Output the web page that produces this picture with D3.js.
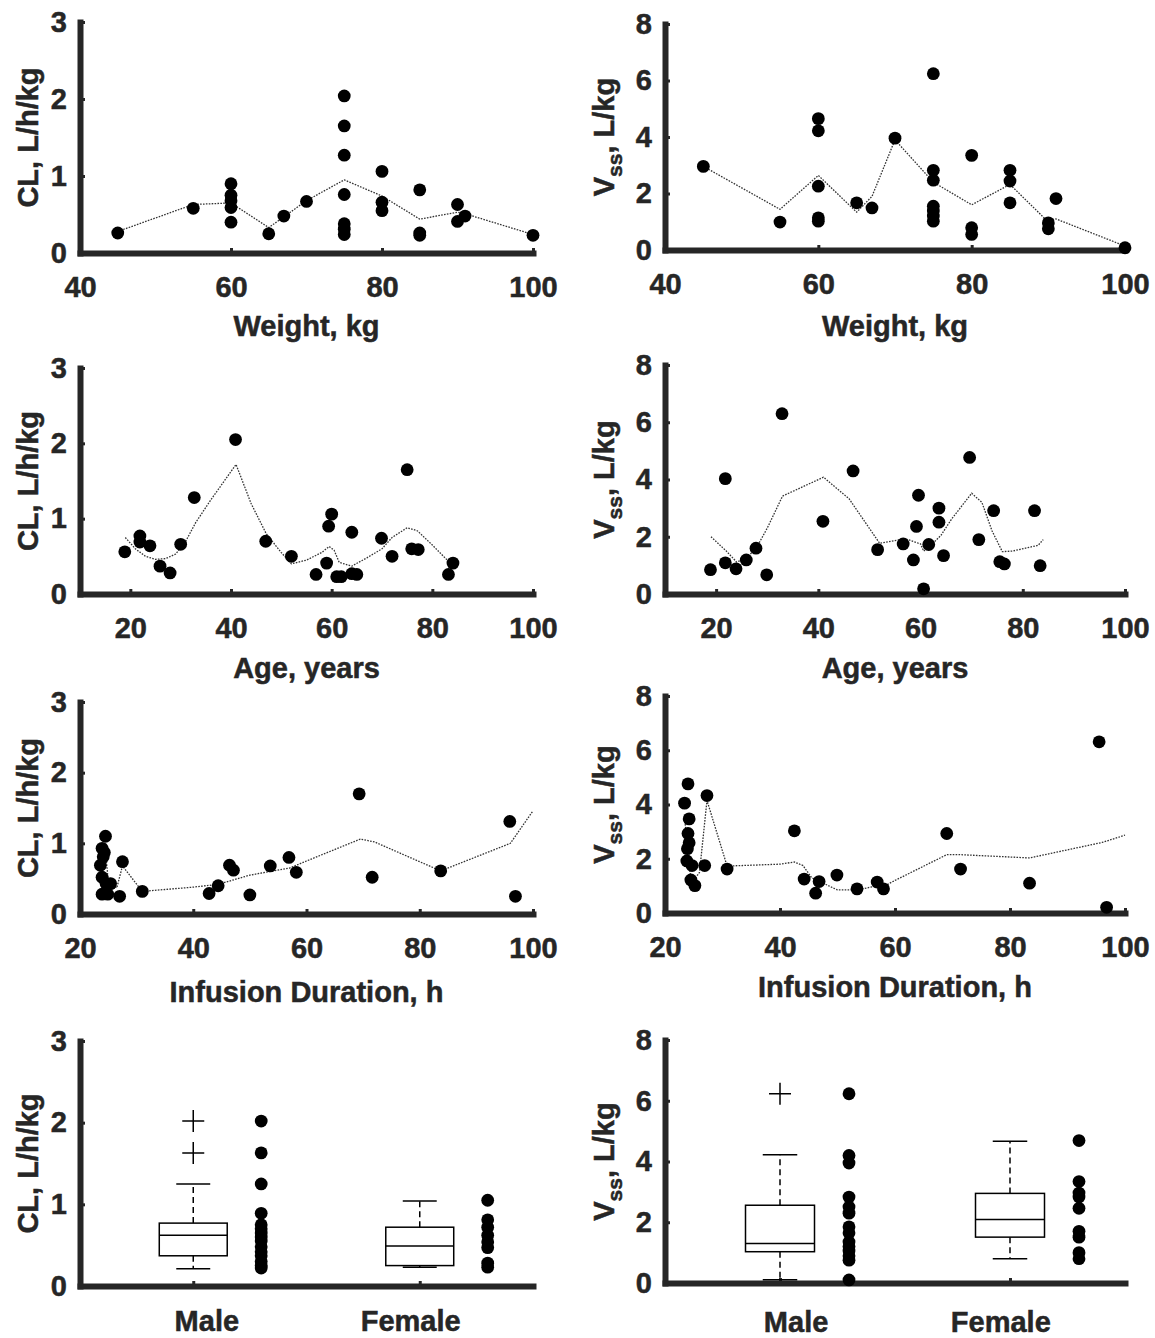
<!DOCTYPE html>
<html>
<head>
<meta charset="utf-8">
<script src="https://cdn.jsdelivr.net/npm/d3@7"></script>
<style>
  body { margin: 0; background: #fff; }
  text { font-family: "Liberation Sans", Arial, sans-serif; font-weight: bold; fill: #262626; stroke: #262626; stroke-width: 0.5px; }
</style>
</head>
<body>
<svg id="chart" width="1155" height="1338"></svg>
<script>
// ---- data ----
var clWeight = [[45,0.26],[55,0.58],[60,0.90],[60,0.75],[60,0.68],[60,0.59],[60,0.40],[65,0.25],[67,0.48],[70,0.67],
  [75,2.04],[75,1.65],[75,1.27],[75,0.76],[75,0.38],[75,0.31],[75,0.24],[80,1.06],[80,0.66],[80,0.55],
  [85,0.82],[85,0.26],[85,0.23],[90,0.63],[90,0.41],[91,0.48],[100,0.23]];
var clWeightSmooth = [[45,0.28],[55,0.63],[60,0.65],[65,0.33],[67,0.47],[70,0.68],[75,0.95],[80,0.74],[85,0.44],[90,0.53],[91,0.51],[100,0.24]];

var vssWeight = [[45,2.96],[55,0.99],[60,4.65],[60,4.22],[60,2.26],[60,1.14],[60,1.02],[65,1.67],[67,1.49],[70,3.96],
  [75,6.24],[75,2.82],[75,2.47],[75,1.55],[75,1.38],[75,1.20],[75,1.02],[80,3.35],[80,0.79],[80,0.55],
  [85,2.82],[85,2.44],[85,1.67],[90,0.96],[90,0.75],[91,1.82],[100,0.08]];
var vssWeightSmooth = [[45,2.96],[55,1.44],[60,2.64],[65,1.34],[67,1.9],[70,3.9],[75,2.4],[80,1.6],[85,2.32],[90,0.99],[91,1.1],[100,0.14]];

var clAge = [[18.9,0.56],[21.9,0.77],[21.9,0.69],[23.9,0.64],[25.9,0.37],[27.9,0.28],[30,0.66],[32.7,1.28],[40.9,2.05],
  [46.9,0.70],[52,0.50],[56.9,0.26],[59,0.41],[59.4,0.90],[60,1.06],[61,0.23],[61.9,0.23],[64,0.82],[64,0.27],[65,0.26],
  [69.9,0.74],[72,0.50],[75,1.65],[75.9,0.60],[77.2,0.59],[83.2,0.26],[84.1,0.41]];
var clAgeSmooth = [[19,0.75],[21,0.6],[23,0.5],[25,0.46],[27,0.47],[29,0.53],[31,0.7],[33,0.95],[36,1.25],[41,1.72],
  [44,1.2],[47,0.8],[50,0.55],[52,0.4],[55,0.45],[58,0.55],[59.5,0.63],[60.5,0.58],[61.5,0.42],[64,0.37],[67,0.48],
  [70,0.6],[72,0.75],[75,0.88],[77,0.84],[80,0.65],[84,0.38]];

var vssAge = [[18.9,0.85],[21.8,4.03],[21.8,1.09],[23.9,0.88],[25.9,1.19],[27.8,1.6],[29.9,0.67],[32.9,6.3],[40.9,2.54],
  [46.8,4.3],[51.6,1.55],[56.6,1.75],[58.6,1.19],[59.2,2.36],[59.6,3.45],[60.6,0.18],[61.6,1.73],[63.6,3.0],[63.6,2.51],
  [64.5,1.34],[69.6,4.77],[71.4,1.9],[74.3,2.91],[75.5,1.13],[76.4,1.05],[82.3,2.91],[83.4,0.99]];
var vssAgeSmooth = [[19,2.0],[22,1.5],[24,1.12],[26,1.25],[28,1.65],[30,2.3],[33,3.42],[41,4.08],[46,3.33],[52,1.77],
  [57,1.93],[60,1.75],[60.6,1.5],[62,1.7],[64,2.05],[66,2.6],[70,3.52],[72,3.2],[74,2.2],[76,1.48],[78,1.5],[83,1.7],[84,1.9]];

var clDur = [[23.6,0.69],[23.9,0.93],[24.1,0.81],[24.3,0.87],[24.5,1.10],[23.9,0.52],[23.9,0.28],[24.9,0.28],[24.6,0.43],
  [25.4,0.43],[27,0.25],[27.5,0.74],[31,0.32],[42.8,0.29],[44.4,0.40],[46.4,0.69],[47.1,0.62],[50,0.27],[53.6,0.68],
  [56.9,0.80],[58.2,0.59],[69.3,1.70],[71.6,0.52],[83.7,0.61],[95.9,1.31],[96.9,0.25]];
var clDurSmooth = [[23.6,0.7],[24.5,0.9],[25,0.45],[26.5,0.37],[27.5,0.68],[31,0.32],[40,0.38],[44.4,0.42],[50,0.55],
  [57,0.65],[60,0.75],[69.5,1.06],[72,1.02],[83.7,0.61],[96,1.0],[100,1.46]];

var vssDur = [[23.4,4.05],[24,4.76],[24.2,3.47],[24,2.93],[24.2,2.59],[23.9,2.37],[23.8,1.92],[24.7,1.75],[24.5,1.22],
  [25.2,1.01],[26.9,1.75],[27.3,4.33],[30.8,1.62],[42.5,3.03],[44.2,1.25],[46.2,0.73],[46.8,1.16],[49.9,1.40],[53.4,0.89],
  [56.9,1.14],[58,0.89],[69,2.93],[71.4,1.62],[83.4,1.10],[95.5,6.31],[96.8,0.21]];
var vssDurSmooth = [[23.4,3.6],[24,2.0],[24.5,1.3],[25,1.2],[26,1.5],[27.3,4.15],[30.8,1.73],[40,1.8],[42.5,1.88],
  [44,1.75],[45.5,1.3],[48,1.05],[50,0.85],[53.4,0.85],[56.9,1.0],[58,0.98],[60,1.2],[69,2.15],[71.4,2.15],[83.4,2.03],
  [96,2.6],[100,2.87]];

var sexLabels = ["Male", "Female"];
// box stats: [lowWhisker, q1, median, q3, highWhisker]
var clBox = [[0.21, 0.37, 0.62, 0.77, 1.25], [0.23, 0.25, 0.49, 0.72, 1.04]];
var clOutliers = [[2.02, 1.63], []];
var clSexDots = [[2.02,1.63,1.25,0.89,0.75,0.70,0.65,0.60,0.55,0.48,0.42,0.37,0.30,0.25,0.22],
                 [1.05,0.81,0.72,0.62,0.54,0.47,0.28,0.23]];
var vssBox = [[0.11, 1.03, 1.30, 2.56, 4.22], [0.80, 1.51, 2.09, 2.95, 4.67]];
var vssOutliers = [[6.23], []];
var vssSexDots = [[6.23,4.2,3.95,2.83,2.5,2.3,1.85,1.65,1.35,1.2,1.05,0.9,0.75,0.1],
                  [4.69,3.34,2.96,2.83,2.46,1.7,1.51,1.0,0.8]];

var svg = d3.select("#chart");
var ink = "#262626";

function styleAxis(g) {
  g.select(".domain").attr("stroke", ink).attr("stroke-width", 6).attr("stroke-linecap", "square");
  g.selectAll(".tick line").attr("stroke", ink).attr("stroke-width", 3);
  g.selectAll(".tick text").style("font-size", "29px").attr("fill", ink);
}

function yTitle(x, yMid, kind) {
  var t = svg.append("text")
    .attr("transform", "translate(" + x + "," + yMid + ") rotate(-90)")
    .attr("text-anchor", "middle")
    .style("font-size", "29px");
  if (kind == "cl") {
    t.text("CL, L/h/kg");
  } else {
    t.append("tspan").text("V");
    t.append("tspan").attr("dy", 8).style("font-size", "21px").text("ss");
    t.append("tspan").attr("dy", -8).text(", L/kg");
  }
}

function makeFrame(p) {
  var x = d3.scaleLinear().domain(p.xDomain).range([p.x0, p.x1]);
  var y = d3.scaleLinear().domain([0, p.yMax]).range([p.y0, p.yTop]);

  var xa = svg.append("g").attr("transform", "translate(0," + p.y0 + ")")
    .call(d3.axisBottom(x).tickValues(p.xTicks).tickSizeInner(-5).tickSizeOuter(0).tickPadding(23)
      .tickFormat(p.xFormat || d3.format("d")));
  styleAxis(xa);

  var ya = svg.append("g").attr("transform", "translate(" + p.x0 + ",0)")
    .call(d3.axisLeft(y).tickValues(d3.range(0, p.yMax + 1, p.yStep)).tickFormat(d3.format("d"))
      .tickSizeInner(-5).tickSizeOuter(0).tickPadding(13));
  styleAxis(ya);

  yTitle(p.titleX, (p.y0 + p.yTop) / 2, p.kind);
  if (p.xTitle) {
    svg.append("text").attr("x", (p.x0 + p.x1) / 2).attr("y", p.xTitleY)
      .attr("text-anchor", "middle").style("font-size", "29px").text(p.xTitle);
  }
  return {x: x, y: y};
}

function scatterPanel(p) {
  var s = makeFrame(p);
  var line = d3.line().x(function(d) { return s.x(d[0]); }).y(function(d) { return s.y(d[1]); });
  svg.append("path").datum(p.smooth).attr("d", line)
    .attr("fill", "none").attr("stroke", "#333").attr("stroke-width", 1.3).attr("stroke-dasharray", "1.6,1.3");
  svg.append("g").selectAll("circle").data(p.points).enter().append("circle")
    .attr("cx", function(d) { return s.x(d[0]); })
    .attr("cy", function(d) { return s.y(d[1]); })
    .attr("r", 6.4).attr("fill", "#000");
}

function boxPanel(p) {
  p.xDomain = [0.5, 2.5];
  p.xTicks = [1, 2];
  p.xFormat = function() { return ""; };
  var s = makeFrame(p);
  var g = svg.append("g");
  p.box.forEach(function(b, i) {
    var c = i + 1;
    var xl = s.x(c - 0.15), xr = s.x(c + 0.15), xm = s.x(c);
    var cl = s.x(c - 0.075), cr = s.x(c + 0.075);
    g.append("line").attr("x1", xm).attr("x2", xm).attr("y1", s.y(b[3])).attr("y2", s.y(b[4]))
      .attr("stroke", "#000").attr("stroke-width", 1.5).attr("stroke-dasharray", "6,4");
    g.append("line").attr("x1", xm).attr("x2", xm).attr("y1", s.y(b[1])).attr("y2", s.y(b[0]))
      .attr("stroke", "#000").attr("stroke-width", 1.5).attr("stroke-dasharray", "6,4");
    [b[0], b[4]].forEach(function(v) {
      g.append("line").attr("x1", cl).attr("x2", cr).attr("y1", s.y(v)).attr("y2", s.y(v))
        .attr("stroke", "#000").attr("stroke-width", 1.5);
    });
    g.append("rect").attr("x", xl).attr("y", s.y(b[3])).attr("width", xr - xl).attr("height", s.y(b[1]) - s.y(b[3]))
      .attr("fill", "none").attr("stroke", "#000").attr("stroke-width", 1.5);
    g.append("line").attr("x1", xl).attr("x2", xr).attr("y1", s.y(b[2])).attr("y2", s.y(b[2]))
      .attr("stroke", "#000").attr("stroke-width", 1.5);
    p.outliers[i].forEach(function(v) {
      g.append("path").attr("d", "M" + (xm - 11) + "," + s.y(v) + "H" + (xm + 11) + "M" + xm + "," + (s.y(v) - 11) + "V" + (s.y(v) + 11))
        .attr("stroke", "#000").attr("stroke-width", 1.5);
    });
    p.dots[i].forEach(function(v) {
      g.append("circle").attr("cx", s.x(c + 0.3)).attr("cy", s.y(v)).attr("r", 6.4).attr("fill", "#000");
    });
  });
  svg.selectAll(null).data(sexLabels).enter().append("text")
    .attr("x", function(d, i) { return s.x(p.labelPos[i]); })
    .attr("y", p.labelY).attr("text-anchor", "middle").style("font-size", "29px")
    .text(function(d) { return d; });
}

// row 1 - weight
scatterPanel({x0: 80, x1: 533, y0: 253, yTop: 22, xDomain: [40, 100], xTicks: [40, 60, 80, 100], yMax: 3, yStep: 1,
  kind: "cl", titleX: 38, xTitle: "Weight, kg", xTitleY: 336, points: clWeight, smooth: clWeightSmooth});
scatterPanel({x0: 665, x1: 1125, y0: 250, yTop: 24, xDomain: [40, 100], xTicks: [40, 60, 80, 100], yMax: 8, yStep: 2,
  kind: "vss", titleX: 614, xTitle: "Weight, kg", xTitleY: 336, points: vssWeight, smooth: vssWeightSmooth});

// row 2 - age
scatterPanel({x0: 80, x1: 533, y0: 594, yTop: 368, xDomain: [10, 100], xTicks: [20, 40, 60, 80, 100], yMax: 3, yStep: 1,
  kind: "cl", titleX: 38, xTitle: "Age, years", xTitleY: 678, points: clAge, smooth: clAgeSmooth});
scatterPanel({x0: 665, x1: 1125, y0: 594, yTop: 365, xDomain: [10, 100], xTicks: [20, 40, 60, 80, 100], yMax: 8, yStep: 2,
  kind: "vss", titleX: 614, xTitle: "Age, years", xTitleY: 678, points: vssAge, smooth: vssAgeSmooth});

// row 3 - infusion duration
scatterPanel({x0: 80, x1: 533, y0: 914, yTop: 702, xDomain: [20, 100], xTicks: [20, 40, 60, 80, 100], yMax: 3, yStep: 1,
  kind: "cl", titleX: 38, xTitle: "Infusion Duration, h", xTitleY: 1002, points: clDur, smooth: clDurSmooth});
scatterPanel({x0: 665, x1: 1125, y0: 913, yTop: 696, xDomain: [20, 100], xTicks: [20, 40, 60, 80, 100], yMax: 8, yStep: 2,
  kind: "vss", titleX: 614, xTitle: "Infusion Duration, h", xTitleY: 997, points: vssDur, smooth: vssDurSmooth});

// row 4 - sex
boxPanel({x0: 80, x1: 533, y0: 1286, yTop: 1041, yMax: 3, yStep: 1, kind: "cl", titleX: 38,
  box: clBox, outliers: clOutliers, dots: clSexDots, labelPos: [1.06, 1.96], labelY: 1331});
boxPanel({x0: 665, x1: 1125, y0: 1283, yTop: 1040, yMax: 8, yStep: 2, kind: "vss", titleX: 614,
  box: vssBox, outliers: vssOutliers, dots: vssSexDots, labelPos: [1.07, 1.96], labelY: 1332});
</script>
</body>
</html>
